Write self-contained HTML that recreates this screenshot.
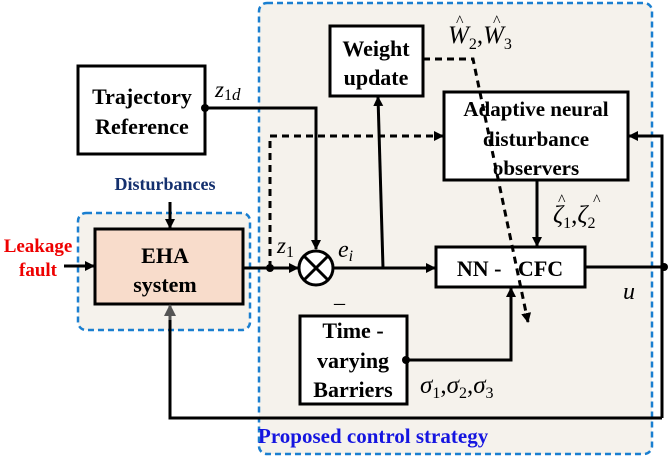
<!DOCTYPE html>
<html><head><meta charset="utf-8"><style>
body{margin:0;background:#fff}
svg text{font-family:"Liberation Serif","DejaVu Serif",serif}
.b{font-weight:bold}
.i{font-style:italic}
</style></head><body>
<svg width="669" height="462" viewBox="0 0 669 462" xmlns="http://www.w3.org/2000/svg" font-family="Liberation Serif, DejaVu Serif, serif">
<defs>
<marker id="a" markerWidth="10" markerHeight="10" refX="9" refY="5" orient="auto" markerUnits="userSpaceOnUse"><path d="M0,0 L10,5 L0,10z" fill="#000"/></marker>
<marker id="g" markerWidth="12" markerHeight="12" refX="11" refY="6" orient="auto" markerUnits="userSpaceOnUse"><path d="M0,0 L12,6 L0,12z" fill="#555"/></marker>
</defs>
<rect x="259" y="3" width="393" height="451" rx="8" fill="#f5f2ec" stroke="#1a7fd0" stroke-width="2.5" stroke-dasharray="6,4"/>
<rect x="78" y="213" width="172" height="117" rx="8" fill="#f5f2ec" stroke="#1a7fd0" stroke-width="2.5" stroke-dasharray="6,4"/>
<rect x="78" y="66" width="127" height="88" fill="#fff" stroke="#000" stroke-width="3"/>
<text class="b" x="142" y="104" text-anchor="middle" font-size="22">Trajectory</text>
<text class="b" x="142" y="134" text-anchor="middle" font-size="22">Reference</text>
<rect x="95" y="229" width="148" height="75" fill="#f8dccb" stroke="#000" stroke-width="3"/>
<text class="b" x="165" y="263" text-anchor="middle" font-size="22">EHA</text>
<text class="b" x="165" y="292" text-anchor="middle" font-size="22">system</text>
<text class="b" x="165" y="190" text-anchor="middle" fill="#14306e" font-size="18">Disturbances</text>
<line x1="170" y1="202" x2="170" y2="228" stroke="#000" stroke-width="3" marker-end="url(#a)"/>
<text class="b" x="38" y="252" text-anchor="middle" fill="#e00" font-size="19">Leakage</text>
<text class="b" x="38" y="276" text-anchor="middle" fill="#e00" font-size="19">fault</text>
<line x1="64" y1="266" x2="94" y2="266" stroke="#000" stroke-width="3" marker-end="url(#a)"/>
<rect x="330" y="26" width="93" height="70" fill="#fff" stroke="#000" stroke-width="3"/>
<text class="b" x="376" y="56" text-anchor="middle" font-size="22">Weight</text>
<text class="b" x="376" y="85" text-anchor="middle" font-size="22">update</text>
<rect x="444" y="92" width="184" height="88" fill="#fff" stroke="#000" stroke-width="3"/>
<text class="b" x="536" y="116" text-anchor="middle" font-size="21">Adaptive neural</text>
<text class="b" x="536" y="146" text-anchor="middle" font-size="21">disturbance</text>
<text class="b" x="536" y="175" text-anchor="middle" font-size="21">observers</text>
<rect x="436" y="247" width="149" height="40" fill="#fff" stroke="#000" stroke-width="3"/>
<text class="b" x="510" y="276" text-anchor="middle" font-size="22">NN -&#160;&#160;&#160;CFC</text>
<rect x="300" y="316" width="107" height="88" fill="#fff" stroke="#000" stroke-width="3"/>
<text class="b" x="353" y="338" text-anchor="middle" font-size="22">Time -</text>
<text class="b" x="353" y="368" text-anchor="middle" font-size="22">varying</text>
<text class="b" x="353" y="397" text-anchor="middle" font-size="22">Barriers</text>
<g stroke="#000" stroke-width="3" fill="none">
<polyline points="205,108 316,108 316,249" marker-end="url(#a)"/>
<line x1="243" y1="268" x2="298" y2="268" marker-end="url(#a)"/>
<circle cx="316" cy="268" r="17" fill="#fff"/>
<line x1="304" y1="256" x2="328" y2="280"/><line x1="328" y1="256" x2="304" y2="280"/>
<line x1="333" y1="268" x2="435" y2="268" marker-end="url(#a)"/>
<line x1="383" y1="268" x2="378" y2="97" marker-end="url(#a)"/>
<line x1="537" y1="180" x2="537" y2="246" marker-end="url(#a)"/>
<line x1="585" y1="267" x2="664" y2="267"/>
<polyline points="662,418 662,136 629,136" marker-end="url(#a)"/>
<polyline points="662,418 170,418 170,318"/>
<polyline points="406,360 511,360 511,288" marker-end="url(#a)"/>
</g>
<line x1="170" y1="320" x2="170" y2="305" stroke="#555" stroke-width="3" marker-end="url(#g)"/>
<g stroke="#000" stroke-width="3" fill="none" stroke-dasharray="7,5">
<polyline points="270,268 270,136 443,136" marker-end="url(#a)"/>
<polyline points="423,59 473,59 528,322" marker-end="url(#a)"/>
</g>
<circle cx="205" cy="108" r="4"/><circle cx="270" cy="268" r="4"/><circle cx="406" cy="360" r="4"/><circle cx="664" cy="267" r="4"/>
<text class="i" x="215" y="97" font-size="23">z<tspan font-size="16" dy="3" font-style="normal">1</tspan><tspan font-size="17">d</tspan></text>
<text class="i" x="277" y="253" font-size="23">z<tspan font-size="16" dy="4" font-style="normal">1</tspan></text>
<text class="i" x="338" y="257" font-size="24">e<tspan font-size="16" dy="4">i</tspan></text>
<text x="334" y="302" font-size="22">_</text>
<text class="i" x="623" y="299" font-size="24">u</text>
<text class="i" x="448" y="43" font-size="25">W<tspan font-size="16" dy="6" font-style="normal">2</tspan><tspan dy="-6" font-style="normal">,</tspan>W<tspan font-size="16" dy="6" font-style="normal">3</tspan></text>
<text x="456" y="26" font-size="16">^</text><text x="493" y="26" font-size="16">^</text>
<text class="i" x="553" y="223" font-size="25">ζ<tspan font-size="16" dy="5" font-style="normal">1</tspan><tspan dy="-5" font-style="normal">,</tspan>ζ<tspan font-size="16" dy="5" font-style="normal">2</tspan></text>
<text x="558" y="205" font-size="16">^</text><text x="593" y="205" font-size="16">^</text>
<text class="i" x="420" y="393" font-size="25">σ<tspan font-size="16" dy="5" font-style="normal">1</tspan><tspan dy="-5" font-style="normal">,</tspan>σ<tspan font-size="16" dy="5" font-style="normal">2</tspan><tspan dy="-5" font-style="normal">,</tspan>σ<tspan font-size="16" dy="5" font-style="normal">3</tspan></text>
<text class="b" x="258" y="443" fill="#1515e0" font-size="21">Proposed control strategy</text>
</svg>
</body></html>
